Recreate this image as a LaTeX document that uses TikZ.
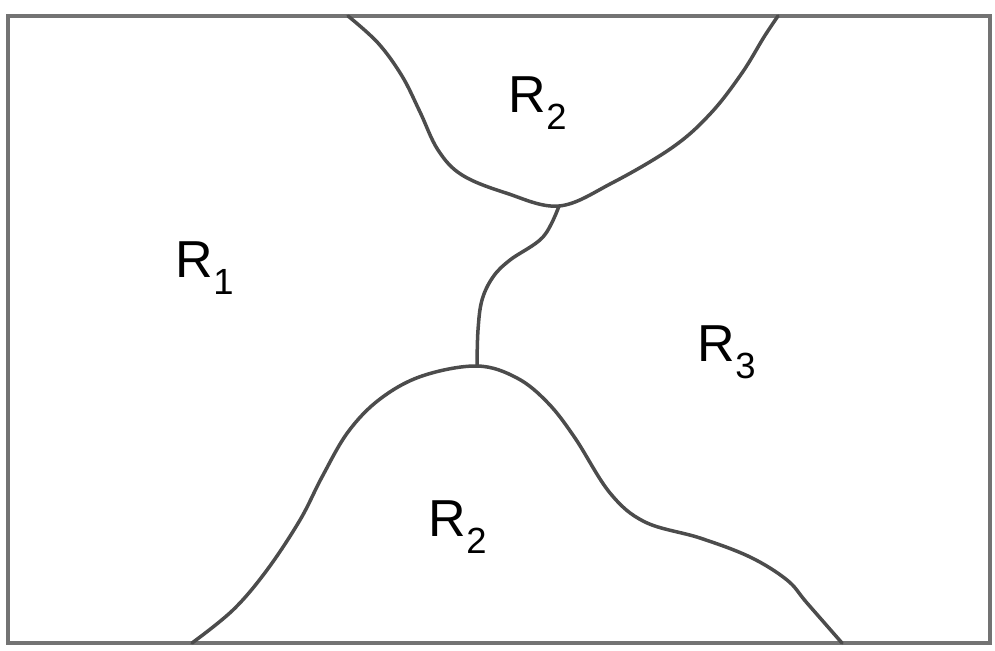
\documentclass[tikz,border=0pt]{standalone}
\usepackage{fontspec}
\setmainfont{Liberation Sans}
\begin{document}
\begin{tikzpicture}[x=1pt,y=-1pt,
  frame/.style={draw=black!55,line width=3.5pt},
  border/.style={draw=black!70,line width=3.5pt,line join=round,line cap=round},
  region/.style={font=\fontsize{52}{56}\selectfont,inner sep=0pt}]
\useasboundingbox (0,0) rectangle (995,650);
\draw[frame] (8,16) rectangle (990,643);
\coordinate (tl) at (348,16);
\coordinate (tr) at (778,16);
\coordinate (j1) at (559,206);
\coordinate (j2) at (477,366);
\coordinate (bl) at (192,643);
\coordinate (br) at (842,643);
% top R2 boundary
\draw[border] plot[smooth,tension=0.6] coordinates {(tl) (378,43) (402,76) (420,112) (438,150) (462,175) (506,193) (j1) (612,183) (673,147) (711,113) (742,73) (764,37) (tr)};
% middle boundary
\draw[border] plot[smooth,tension=0.6] coordinates {(j1) (543,237) (510,260) (493,277) (482,300) (478,330) (j2)};
% bottom R2 boundary
\draw[border] plot[smooth,tension=0.6] coordinates {(bl) (233,610) (267,570) (300,520) (322,477) (348,432) (380,399) (422,376) (j2) (517,378) (548,403) (575,438) (610,493) (645,522) (700,538) (750,557) (787,580) (807,603) (br)};
% labels
\node[region] (r1) at (205,268) {R$_{\mathrm{1}}$};
\node[region] (r2a) at (538,103) {R$_{\mathrm{2}}$};
\node[region] (r3) at (727,352) {R$_{\mathrm{3}}$};
\node[region] (r2b) at (458,527) {R$_{\mathrm{2}}$};
\end{tikzpicture}
\end{document}
